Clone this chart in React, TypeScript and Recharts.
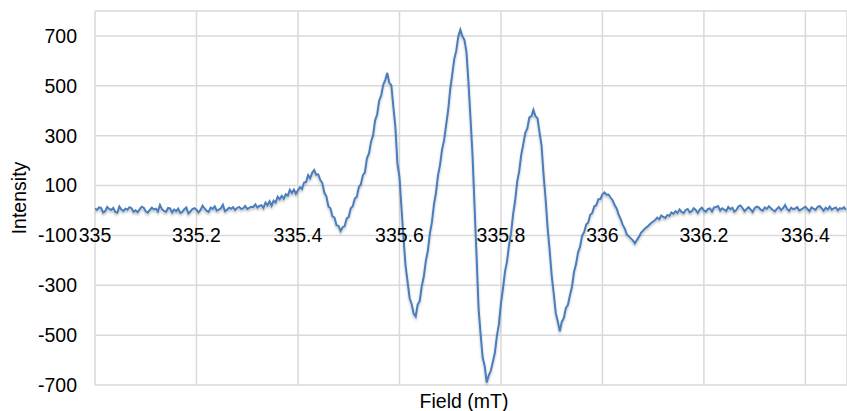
import React from "react";
import { LineChart, Line, XAxis, YAxis, CartesianGrid, Label } from "recharts";

// EPR sweep: 335.000 mT upward, one reading every 0.004 mT
const FIELD_START = 335;
const FIELD_STEP = 0.004;

// 335.000 - 335.324 : flat, noisy baseline
const lowBaseline = [
  8, 2, 12, 10, -8, -3, 14, 6, 2, 10,
  -6, -9, 16, 4, -2, 7, 3, 13, 9, -5,
  1, -7, 4, 15, 11, -3, -9, 2, 11, 4,
  7, -4, 22, 5, -2, -6, 10, 8, -8, 4,
  -3, 7, -10, -6, 5, 12, -12, -4, 6, 9,
  3, -8, 2, 19, 8, -2, -6, 12, 6, 16,
  -1, 3, 9, 23, -3, 2, 11, 7, 13, 2,
  10, 14, 6, 8, 18, 6, 10, 15, 14, 24, 12, 18,
];

// 335.328 - 336.208 : the hyperfine lines
const resonances = [
  21, 10, 32, 21, 37, 19, 39, 32, 55, 45,
  59, 47, 65, 59, 83, 70, 84, 67, 81, 93,
  86, 112, 114, 142, 129, 151, 162, 143, 145, 122,
  110, 71, 57, 16, 9, -24, -29, -59, -62, -82,
  -67, -63, -32, -26, 9, 17, 48, 55, 94, 105,
  142, 153, 210, 229, 276, 301, 361, 385, 440, 461,
  504, 523, 552, 512, 503, 415, 334, 189, 135, 10,
  -111, -221, -285, -351, -375, -414, -425, -377, -363, -303,
  -265, -202, -161, -92, -47, 24, 71, 141, 183, 245,
  282, 342, 402, 486, 545, 607, 641, 698, 725, 699,
  684, 637, 515, 371, 222, 17, -184, -395, -498, -590,
  -624, -690, -661, -643, -608, -572, -504, -456, -373, -313,
  -245, -204, -138, -91, -15, 39, 115, 158, 223, 266,
  311, 329, 373, 378, 404, 378, 371, 314, 261, 144,
  47, -70, -159, -260, -333, -411, -445, -485, -446, -431,
  -391, -379, -340, -306, -247, -215, -168, -145, -101, -87,
  -56, -48, -17, -10, 17, 21, 45, 46, 65, 72,
  63, 64, 52, 41, 22, 8, -17, -35, -58, -72,
  -96, -103, -112, -120, -132, -118, -106, -90, -81, -72,
  -66, -58, -50, -44, -38, -29, -35, -20, -26, -30,
  -18, -22, -8, -14, -3, -10, 4, -6, -11, 2,
  6, -8, -3, 9, 2, -10, 4, 11, 0, -5, 6,
];

// 336.212 - 336.480 : baseline again
const highBaseline = [
  8, -4, 12, 14, 18, 0, 9, 3, -2, 14,
  5, 11, -5, 2, 16, 20, 10, -3, 6, 13,
  4, -6, 9, 15, 12, 3, -1, 12, 6, 17,
  9, 2, -4, 7, 14, 1, 9, 22, 6, -2,
  11, 5, 8, 13, 0, 4, 10, 15, 6, -3,
  12, 7, 2, 14, 18, 9, -1, 11, 4, 16,
  3, 8, 12, 0, 9, 6, 13, 2,
];

const fieldTicks = [335, 335.2, 335.4, 335.6, 335.8, 336, 336.2, 336.4];
const intensityTicks = [-700, -500, -300, -100, 100, 300, 500, 700];

const intensity = [...lowBaseline, ...resonances, ...highBaseline];
const data = intensity.map((v, i) => ({
  field: +(FIELD_START + i * FIELD_STEP).toFixed(3),
  intensity: v,
}));

const W = 847;
const H = 411;
const X_AXIS_H = 26;
const Y_AXIS_W = 95;
const margin = { top: 11, right: 0, bottom: 0, left: 0 };
const Y_MIN = -700;
const Y_MAX = 800;
const plotH = H - margin.top - margin.bottom - X_AXIS_H;
// x labels sit under the zero line (Excel "axis crosses at 0")
const zeroFromBottom = (plotH * (0 - Y_MIN)) / (Y_MAX - Y_MIN);

const font = "'Liberation Sans', Arial, sans-serif";
const fmt = (v: number) => String(Number(v.toFixed(1)));

const FieldTick = (props: any) => {
  const { x, y, payload } = props;
  return (
    <text
      x={x}
      y={y - zeroFromBottom + 32}
      textAnchor="middle"
      fontFamily={font}
      fontSize={19.5}
      fill="#000"
    >
      {fmt(payload.value)}
    </text>
  );
};

export default function App() {
  return (
    <div style={{ position: "absolute", left: 0, top: 0, width: W, height: H, overflow: "hidden", background: "#fff" }}>
      <LineChart width={W} height={H} data={data} margin={margin}>
        <defs>
          <filter id="lineShadow" x="-5%" y="-5%" width="110%" height="115%">
            <feDropShadow dx="0" dy="2" stdDeviation="1.2" floodColor="#000" floodOpacity="0.25" />
          </filter>
        </defs>
        <CartesianGrid stroke="#d9d9d9" strokeWidth={1.5} />
        <XAxis
          dataKey="field"
          type="number"
          domain={[335, 336.482]}
          ticks={fieldTicks}
          interval={0}
          allowDataOverflow
          axisLine={false}
          tickLine={false}
          tickSize={0}
          tickMargin={0}
          height={X_AXIS_H}
          tick={<FieldTick />}
        >
          <Label
            value="Field (mT)"
            position="insideBottom"
            offset={3}
            dx={-7}
            style={{ fontFamily: font, fontSize: 19.5, fill: "#000" }}
          />
        </XAxis>
        <YAxis
          type="number"
          domain={[Y_MIN, Y_MAX]}
          ticks={intensityTicks}
          interval={0}
          width={Y_AXIS_W}
          axisLine={false}
          tickLine={false}
          tickSize={0}
          tickMargin={18}
          tick={{ fontFamily: font, fontSize: 19.5, fill: "#000" }}
        >
          <Label
            content={({ viewBox }: any) => {
              const cx = viewBox.x + 19;
              const cy = viewBox.y + viewBox.height / 2;
              return (
                <text
                  x={cx}
                  y={cy}
                  transform={`rotate(-90 ${cx} ${cy})`}
                  textAnchor="middle"
                  dominantBaseline="central"
                  fontFamily={font}
                  fontSize={19.5}
                  fill="#000"
                >
                  Intensity
                </text>
              );
            }}
          />
        </YAxis>
        <Line
          type="linear"
          dataKey="intensity"
          stroke="#4a7ebb"
          strokeWidth={2}
          dot={false}
          isAnimationActive={false}
          style={{ filter: "url(#lineShadow)" }}
        />
      </LineChart>
    </div>
  );
}
